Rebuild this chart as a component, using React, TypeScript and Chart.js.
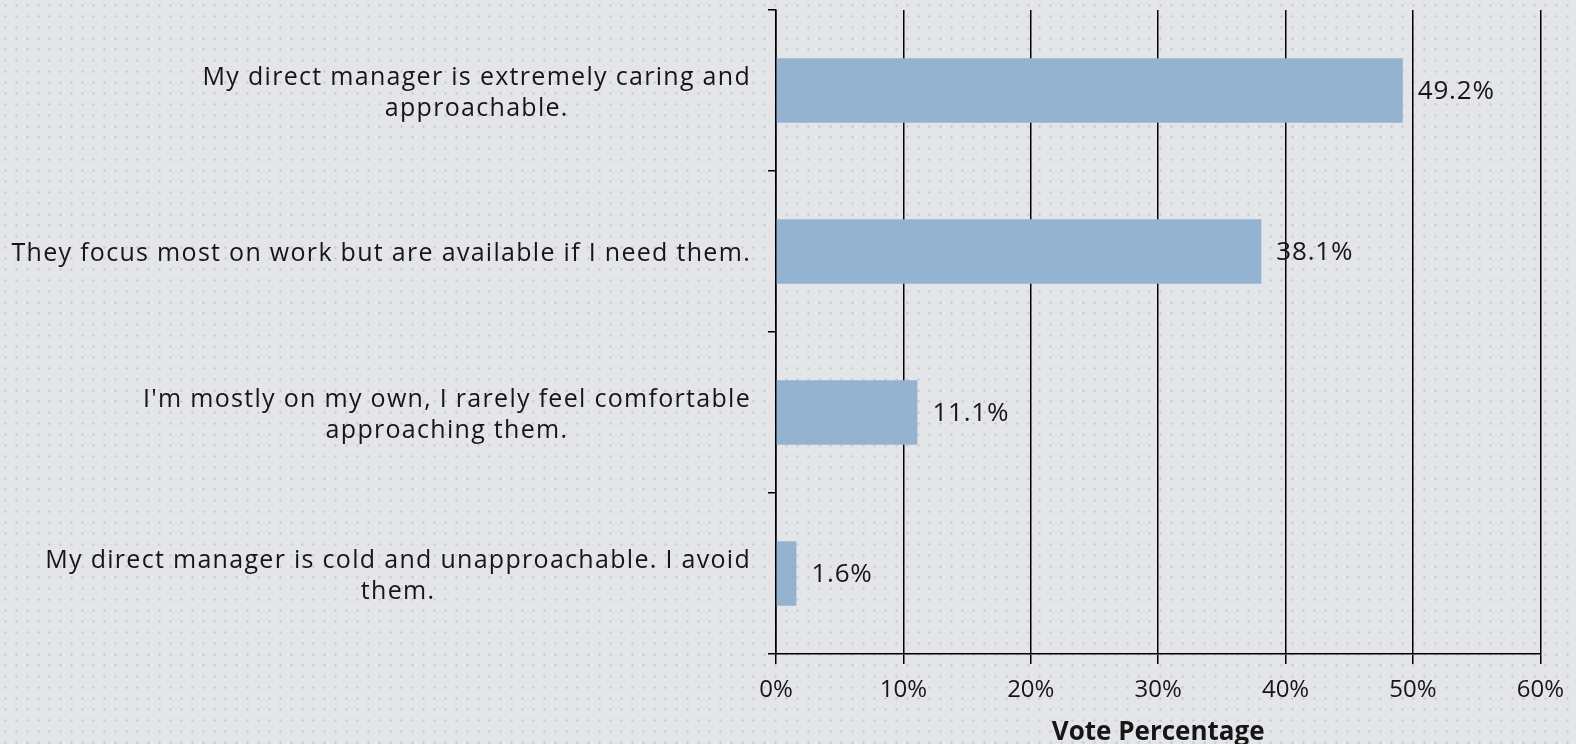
import React, { useEffect, useRef } from 'react';
import { Chart, registerables } from 'chart.js';

Chart.register(...registerables);

const categories: string[][] = [
  ['My direct manager is extremely caring and', 'approachable.'],
  ['They focus most on work but are available if I need them.'],
  ["I'm mostly on my own, I rarely feel comfortable", 'approaching them.'],
  ['My direct manager is cold and unapproachable. I avoid', 'them.'],
];
const votePercent: number[] = [49.2, 38.1, 11.1, 1.6];
const xTickValues: number[] = [0, 10, 20, 30, 40, 50, 60];
const axisTitle = 'Vote Percentage';

const FONT = "'Open Sans', 'DejaVu Sans', sans-serif";
const TEXT = '#161616';

const yLabelPlugin = {
  id: 'yLabels',
  afterDraw(chart: any) {
    const ctx = chart.ctx;
    const y = chart.scales.y;
    ctx.save();
    ctx.font = `25px ${FONT}`;
    (ctx as any).letterSpacing = '1.3px';
    ctx.fillStyle = TEXT;
    ctx.textAlign = 'center';
    ctx.textBaseline = 'middle';
    const right = y.right - 25;
    const lh = 31;
    categories.forEach((lines, i) => {
      const cy = y.getPixelForValue(i) + 2.5;
      const w = Math.max(...lines.map((l) => ctx.measureText(l).width));
      const cx = right - w / 2;
      const start = cy - ((lines.length - 1) * lh) / 2;
      lines.forEach((l, k) => ctx.fillText(l, cx, start + k * lh));
    });
    ctx.restore();
  },
};

const valueLabelPlugin = {
  id: 'valueLabels',
  afterDraw(chart: any) {
    const ctx = chart.ctx;
    const meta = chart.getDatasetMeta(0);
    ctx.save();
    ctx.font = `26px ${FONT}`;
    (ctx as any).letterSpacing = '0.8px';
    ctx.fillStyle = TEXT;
    ctx.textAlign = 'left';
    ctx.textBaseline = 'middle';
    meta.data.forEach((bar: any, i: number) => {
      ctx.fillText(votePercent[i].toFixed(1) + '%', bar.x + 15, bar.y + 1);
    });
    ctx.restore();
  },
};

export default function App() {
  const ref = useRef<HTMLCanvasElement | null>(null);

  useEffect(() => {
    if (!ref.current) return;
    const chart = new Chart(ref.current, {
      type: 'bar',
      data: {
        labels: categories,
        datasets: [
          {
            data: votePercent,
            backgroundColor: '#93b3d1',
            borderWidth: 0,
            barPercentage: 0.4,
            categoryPercentage: 1,
          },
        ],
      },
      options: {
        indexAxis: 'y',
        responsive: false,
        animation: false,
        devicePixelRatio: 1,
        layout: { padding: { top: 10, right: 35, left: 0, bottom: 0 } },
        plugins: {
          legend: { display: false },
          tooltip: { enabled: false },
        },
        scales: {
          x: {
            min: 0,
            max: 60,
            afterBuildTicks: (s: any) => {
              s.ticks = xTickValues.map((v) => ({ value: v }));
            },
            ticks: {
              callback: (v: any) => v + '%',
              color: TEXT,
              font: { family: FONT, size: 24 },
              padding: 12,
              maxRotation: 0,
            },
            grid: {
              color: '#000',
              lineWidth: 1.5,
              tickLength: 10,
              drawOnChartArea: true,
            },
            border: { color: '#000', width: 1.5 },
            title: {
              display: true,
              text: axisTitle,
              color: TEXT,
              font: { family: FONT, size: 26, weight: 'bold' },
              padding: { top: 0, bottom: -4 },
            },
            afterFit: (s: any) => {
              s.height = 90;
            },
          },
          y: {
            ticks: { display: false },
            grid: {
              offset: true,
              drawOnChartArea: false,
              color: '#000',
              lineWidth: 1.5,
              tickLength: 8,
            },
            border: { color: '#000', width: 1.5 },
            afterFit: (s: any) => {
              s.width = 776;
            },
          },
        },
      },
      plugins: [yLabelPlugin, valueLabelPlugin],
    });
    return () => chart.destroy();
  }, []);

  return (
    <div
      style={{
        position: 'fixed',
        left: 0,
        top: 0,
        width: 1576,
        height: 744,
        backgroundColor: '#e4e5e8',
        backgroundImage: 'radial-gradient(circle, #cdd0d4 1px, rgba(0,0,0,0) 1.6px)',
        backgroundSize: '11px 11px',
      }}
    >
      <canvas ref={ref} width={1576} height={744} style={{ display: 'block' }} />
    </div>
  );
}
